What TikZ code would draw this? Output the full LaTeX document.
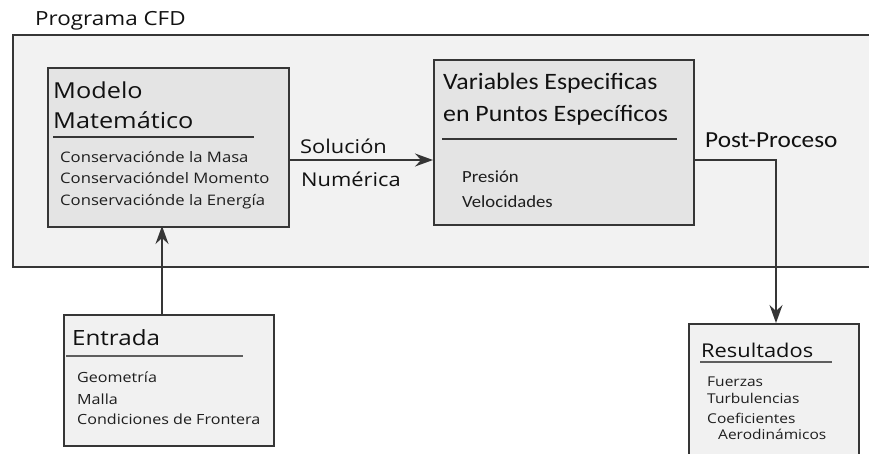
\documentclass[tikz,border=0pt]{standalone}
\usepackage{fontspec}
\setmainfont{Open Sans}
\newfontfamily\osf[FakeStretch=1.15]{Open Sans}
\newfontfamily\clf[FakeStretch=1.1]{Carlito}
\usetikzlibrary{arrows.meta}
\definecolor{boxline}{HTML}{363636}
\definecolor{outerfill}{HTML}{F2F2F2}
\definecolor{darkfill}{HTML}{E4E4E4}
\definecolor{lightfill}{HTML}{F1F1F1}
\definecolor{titlec}{HTML}{111111}
\definecolor{itemc}{HTML}{1E1E1E}
\begin{document}
\begin{tikzpicture}[x=1pt,y=-1pt,
  box/.style={draw=boxline, line width=1.5pt, inner sep=0pt, anchor=north west},
  txt/.style={inner sep=0pt, anchor=base west, text=titlec},
  item/.style={inner sep=0pt, anchor=base west, text=itemc},
  uline/.style={draw=boxline, line width=1.6pt},
  arr/.style={draw=boxline, line width=1.4pt, -{Stealth[length=18pt,width=13pt,inset=6pt]}}]
\useasboundingbox (0,0) rectangle (869,453);
% outer program box
\node[box, fill=outerfill, minimum width=880pt, minimum height=232pt] (cfd) at (12,34) {};
\node[txt, font=\osf\fontsize{19.5}{21}\selectfont] (cfdlabel) at (35,25) {Programa CFD};
% Modelo Matematico
\node[box, fill=darkfill, minimum width=241pt, minimum height=159pt] (mod) at (47,67) {};
\node[txt, font=\osf\fontsize{22}{24}\selectfont] (modt1) at (53,98) {Modelo};
\node[txt, font=\osf\fontsize{22}{24}\selectfont] (modt2) at (53,128) {Matemático};
\draw[uline] (53,137) -- (254,137);
\node[item, font=\osf\fontsize{14.5}{16}\selectfont] (modi1) at (60,162) {Conservaciónde la Masa};
\node[item, font=\osf\fontsize{14.5}{16}\selectfont] (modi2) at (60,183) {Conservacióndel Momento};
\node[item, font=\osf\fontsize{14.5}{16}\selectfont] (modi3) at (60,205) {Conservaciónde la Energía};
% Variables
\node[box, fill=darkfill, minimum width=260pt, minimum height=165pt] (var) at (433,59) {};
\node[txt, font=\clf\fontsize{23.5}{26}\selectfont] (vart1) at (443,89) {Variables Especificas};
\node[txt, font=\clf\fontsize{23.5}{26}\selectfont] (vart2) at (443,121) {en Puntos Específicos};
\draw[uline, line width=2pt] (442,139) -- (677,139);
\node[item, font=\clf\fontsize{17}{19}\selectfont] (vari1) at (462,182) {Presión};
\node[item, font=\clf\fontsize{17}{19}\selectfont] (vari2) at (462,207) {Velocidades};
% Solucion numerica
\coordinate (solA) at (288,160);
\coordinate (solB) at (433,160);
\draw[arr] (solA) -- (solB);
\node[txt, font=\osf\fontsize{19}{21}\selectfont] (sol1) at (300,153) {Solución};
\node[txt, font=\osf\fontsize{19}{21}\selectfont] (sol2) at (301,186) {Numérica};
% Post-proceso
\node[txt, font=\clf\fontsize{23}{25}\selectfont] (post) at (705,147) {Post-Proceso};
% Entrada
\node[box, fill=lightfill, minimum width=210pt, minimum height=131pt] (ent) at (63,314) {};
\node[txt, font=\osf\fontsize{21}{23}\selectfont] (entt) at (72,345) {Entrada};
\draw[uline, draw=boxline!80, line width=2pt] (66,356) -- (243,356);
\node[item, font=\osf\fontsize{14}{16}\selectfont] (enti1) at (77,382) {Geometría};
\node[item, font=\osf\fontsize{14}{16}\selectfont] (enti2) at (77,404) {Malla};
\node[item, font=\osf\fontsize{14}{16}\selectfont] (enti3) at (77,424) {Condiciones de Frontera};
% Resultados
\node[box, fill=lightfill, minimum width=170pt, minimum height=140pt] (res) at (688,323) {};
\node[txt, font=\osf\fontsize{19}{21}\selectfont] (rest) at (701,357) {Resultados};
\draw[uline, draw=boxline!80, line width=2pt] (700,362) -- (832,362);
\node[item, font=\osf\fontsize{13.5}{15}\selectfont] (resi1) at (707,386) {Fuerzas};
\node[item, font=\osf\fontsize{13.5}{15}\selectfont] (resi2) at (707,403) {Turbulencias};
\node[item, font=\osf\fontsize{13.5}{15}\selectfont] (resi3) at (707,423) {Coeficientes};
\node[item, font=\osf\fontsize{13.5}{15}\selectfont] (resi4) at (718,439) {Aerodinámicos};
% connectors
\coordinate (entTop) at (162,314);
\coordinate (modBot) at (162,226);
\draw[arr] (entTop) -- (modBot);
\coordinate (varE) at (693,160);
\coordinate (bend) at (776,160);
\coordinate (resTop) at (776,323);
\draw[arr] (varE) -- (bend) -- (resTop);
\end{tikzpicture}
\end{document}
